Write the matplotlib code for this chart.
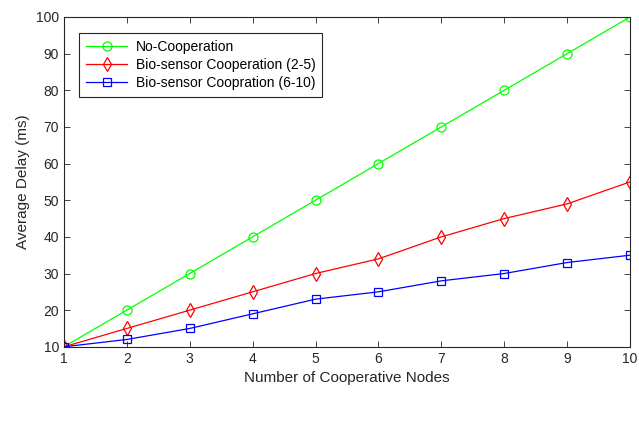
import matplotlib.pyplot as plt

nodes = [1, 2, 3, 4, 5, 6, 7, 8, 9, 10]
no_coop = [10, 20, 30, 40, 50, 60, 70, 80, 90, 100]
coop_2_5 = [10, 15, 20, 25, 30, 34, 40, 45, 49, 55]
coop_6_10 = [10, 12, 15, 19, 23, 25, 28, 30, 33, 35]

plt.rcParams['font.family'] = ['Liberation Sans', 'DejaVu Sans']

fig = plt.figure(figsize=(6.39, 4.25), dpi=100)
ax = fig.add_axes([0.100, 0.184, 0.886, 0.776])

ax.plot(nodes, no_coop, color='#00ff00', lw=0.9, marker='o', ms=6.5,
        mfc='none', mew=0.9, label='No-Cooperation')
ax.plot(nodes, coop_2_5, color='#ff0000', lw=0.9, marker='d', ms=7,
        mfc='none', mew=0.9, label='Bio-sensor Cooperation (2-5)')
ax.plot(nodes, coop_6_10, color='#0000ff', lw=0.9, marker='s', ms=5.5,
        mfc='none', mew=0.9, label='Bio-sensor Coopration (6-10)')

ax.set_xlim(1, 10)
ax.set_ylim(10, 100)
ax.set_xticks(nodes)
ax.set_yticks(range(10, 101, 10))
ax.tick_params(direction='in', top=True, right=True, labelsize=10,
               length=4, width=0.6, colors='#262626')
for s in ax.spines.values():
    s.set_linewidth(0.8)
    s.set_color('#262626')

ax.set_xlabel('Number of Cooperative Nodes', fontsize=11, color='#262626')
ax.set_ylabel('Average Delay (ms)', fontsize=11, color='#262626')

leg = ax.legend(loc='upper left', bbox_to_anchor=(0.014, 0.973), fontsize=10,
                fancybox=False, framealpha=1, edgecolor='#262626',
                handlelength=3.0, handletextpad=0.6, borderpad=0.5,
                labelspacing=0.3)
leg.get_frame().set_linewidth(0.8)

fig.savefig('out.png', dpi=100)
